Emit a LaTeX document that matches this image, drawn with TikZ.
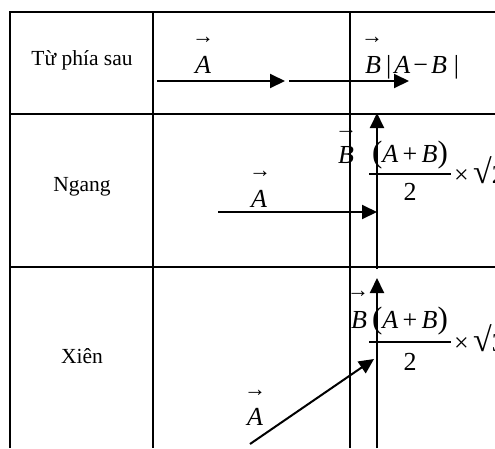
\documentclass[tikz,border=0pt]{standalone}
\usepackage{fontspec}
\setmainfont{Liberation Serif}
\usetikzlibrary{arrows.meta}
\newcommand{\bigpar}[1]{{\fontsize{31}{31}\selectfont #1}}
\begin{document}
\begin{tikzpicture}[x=1pt,y=-1pt,
  grid/.style={line width=2pt},
  vecarrow/.style={line width=2pt,-{Triangle[length=15pt,width=14pt]}},
  lbl/.style={font=\fontsize{21.5}{24}\selectfont, inner sep=0pt},
  mth/.style={font=\fontsize{26}{28}\selectfont, inner sep=0pt, anchor=base west},
  num/.style={font=\fontsize{26}{28}\selectfont, inner sep=0pt, anchor=base},
  varr/.style={font=\fontsize{22}{22}\selectfont, inner sep=0pt},
  fbar/.style={line width=1.1pt}
]
\clip (0,0) rectangle (495,448);
\useasboundingbox (0,0) rectangle (495,448);
% table
\coordinate (tl) at (10,12);
\coordinate (bl) at (10,448);
\coordinate (tr) at (495,12);
\coordinate (r1l) at (10,114);
\coordinate (r1r) at (495,114);
\coordinate (r2l) at (10,267);
\coordinate (r2r) at (495,267);
\coordinate (c1t) at (153,12);
\coordinate (c1b) at (153,448);
\coordinate (c2t) at (350,12);
\coordinate (c2b) at (350,448);
\draw[grid] (bl) -- (tl) -- (tr);
\draw[grid] (r1l) -- (r1r);
\draw[grid] (r2l) -- (r2r);
\draw[grid] (c1t) -- (c1b);
\draw[grid] (c2t) -- (c2b);
% row labels
\node[lbl] (t1) at (82,60) {Từ phía sau};
\node[lbl] (t2) at (82,187) {Ngang};
\node[lbl] (t3) at (82,356) {Xiên};
% row 1
\coordinate (a1s) at (157,81);
\coordinate (a1e) at (285,81);
\coordinate (b1s) at (289,81);
\coordinate (b1e) at (409,81);
\draw[vecarrow] (a1s) -- (a1e);
\draw[vecarrow] (b1s) -- (b1e);
\node[mth] (A1) at (195,73) {\itshape A};
\node[varr] (A1v) at (203,40) {→};
\node[mth] (B1) at (365,73) {\itshape B};
\node[varr] (B1v) at (372,40) {→};
\node[mth] (D1) at (386,73) {|\kern3pt\textit{A}\kern3pt−\kern3pt\textit{B}\kern7pt|};
% row 2
\coordinate (v2s) at (377,269);
\coordinate (v2e) at (377,113);
\draw[vecarrow] (v2s) -- (v2e);
\coordinate (h2s) at (218,212);
\coordinate (h2e) at (377,212);
\draw[vecarrow] (h2s) -- (h2e);
\node[mth] (A2) at (251,207) {\itshape A};
\node[varr] (A2v) at (260,174) {→};
\node[mth] (B2) at (338,163) {\itshape B};
\node[varr] (B2v) at (346,132) {→};
\node[num] (N2) at (410,162) {\bigpar{(}\textit{A}\,+\,\textit{B}\bigpar{)}};
\coordinate (f2l) at (369,174);
\coordinate (f2r) at (451,174);
\draw[fbar] (f2l) -- (f2r);
\node[num] (E2) at (410,200) {2};
\node[num, anchor=base west] (S2) at (454,183) {×\,{\fontsize{34}{34}\selectfont √}2};
% row 3
\coordinate (v3s) at (377,448);
\coordinate (v3e) at (377,278);
\draw[vecarrow] (v3s) -- (v3e);
\coordinate (d3s) at (250,444);
\coordinate (d3e) at (374,359);
\draw[vecarrow] (d3s) -- (d3e);
\node[mth] (A3) at (247,425) {\itshape A};
\node[varr] (A3v) at (255,393) {→};
\node[mth] (B3) at (351,328) {\itshape B};
\node[varr] (B3v) at (358,294) {→};
\node[num] (N3) at (410,328) {\bigpar{(}\textit{A}\,+\,\textit{B}\bigpar{)}};
\coordinate (f3l) at (369,342);
\coordinate (f3r) at (451,342);
\draw[fbar] (f3l) -- (f3r);
\node[num] (E3) at (410,370) {2};
\node[num, anchor=base west] (S3) at (454,351) {×\,{\fontsize{34}{34}\selectfont √}3};
\end{tikzpicture}
\end{document}
